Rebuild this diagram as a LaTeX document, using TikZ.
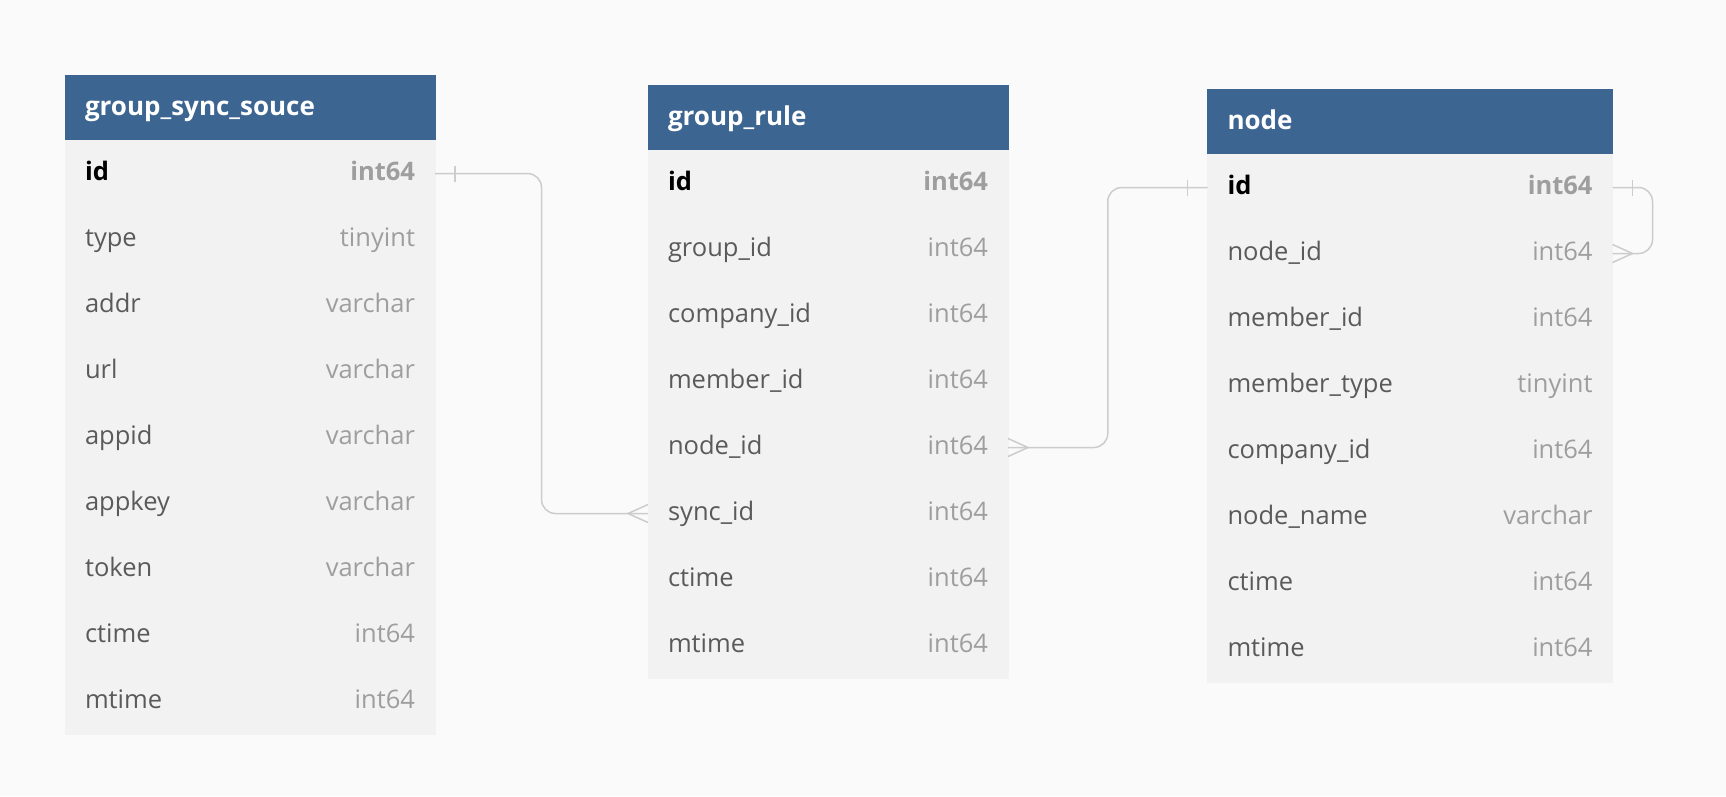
\documentclass[tikz,border=0pt]{standalone}
\usepackage{fontspec}
\setmainfont{Open Sans}
\usetikzlibrary{positioning,calc}

\definecolor{headblue}{HTML}{3C6592}
\definecolor{rowgray}{HTML}{F2F2F2}
\definecolor{pagebg}{HTML}{FAFAFA}
\definecolor{fldtext}{HTML}{5A5A5A}
\definecolor{typetext}{HTML}{9E9E9E}
\definecolor{linkgray}{HTML}{CCCCCC}

\newcommand{\pkrow}[2]{\noindent{\bfseries\color{black}#1}\hfill{\bfseries\color{typetext}#2}}
\newcommand{\fldrow}[2]{\noindent{\color{fldtext}#1}\hfill{\color{typetext}#2}}

\tikzset{
  tblhead/.style={fill=headblue, draw=headblue, line width=0.5pt, outer sep=0pt,
    text=white, font=\fontsize{26}{30}\selectfont\bfseries,
    minimum height=65.5pt, inner xsep=20pt, inner ysep=0pt, text height=20pt, text depth=5.4pt},
  tblrow/.style={fill=rowgray, draw=rowgray, line width=0.5pt, outer sep=0pt,
    font=\fontsize{25.5}{30}\selectfont,
    minimum height=66pt, inner xsep=20pt, inner ysep=0pt, text height=20pt, text depth=5.4pt,
    below=0pt of #1},
  rel/.style={draw=linkgray, line width=1.5pt, rounded corners=14pt},
  relend/.style={draw=linkgray, line width=1.5pt},
}

\begin{document}
\begin{tikzpicture}[x=1pt,y=-1pt]
\fill[pagebg] (0,0) rectangle (1726,796);

\node[tblhead, text width=330pt, anchor=north west] (gss) at (65,75) {group\_sync\_souce};
\node[tblrow=gss, text width=330pt] (gss-id) {\pkrow{id}{int64}};
\node[tblrow=gss-id, text width=330pt] (gss-type) {\fldrow{type}{tinyint}};
\node[tblrow=gss-type, text width=330pt] (gss-addr) {\fldrow{addr}{varchar}};
\node[tblrow=gss-addr, text width=330pt] (gss-url) {\fldrow{url}{varchar}};
\node[tblrow=gss-url, text width=330pt] (gss-appid) {\fldrow{appid}{varchar}};
\node[tblrow=gss-appid, text width=330pt] (gss-appkey) {\fldrow{appkey}{varchar}};
\node[tblrow=gss-appkey, text width=330pt] (gss-token) {\fldrow{token}{varchar}};
\node[tblrow=gss-token, text width=330pt] (gss-ctime) {\fldrow{ctime}{int64}};
\node[tblrow=gss-ctime, text width=330pt] (gss-mtime) {\fldrow{mtime}{int64}};

\node[tblhead, text width=320pt, anchor=north west] (gr) at (648,85) {group\_rule};
\node[tblrow=gr, text width=320pt] (gr-id) {\pkrow{id}{int64}};
\node[tblrow=gr-id, text width=320pt] (gr-group) {\fldrow{group\_id}{int64}};
\node[tblrow=gr-group, text width=320pt] (gr-company) {\fldrow{company\_id}{int64}};
\node[tblrow=gr-company, text width=320pt] (gr-member) {\fldrow{member\_id}{int64}};
\node[tblrow=gr-member, text width=320pt] (gr-node) {\fldrow{node\_id}{int64}};
\node[tblrow=gr-node, text width=320pt] (gr-sync) {\fldrow{sync\_id}{int64}};
\node[tblrow=gr-sync, text width=320pt] (gr-ctime) {\fldrow{ctime}{int64}};
\node[tblrow=gr-ctime, text width=320pt] (gr-mtime) {\fldrow{mtime}{int64}};

\node[tblhead, text width=365pt, anchor=north west] (nd) at (1207.5,89) {node};
\node[tblrow=nd, text width=365pt] (nd-id) {\pkrow{id}{int64}};
\node[tblrow=nd-id, text width=365pt] (nd-node) {\fldrow{node\_id}{int64}};
\node[tblrow=nd-node, text width=365pt] (nd-member) {\fldrow{member\_id}{int64}};
\node[tblrow=nd-member, text width=365pt] (nd-mtype) {\fldrow{member\_type}{tinyint}};
\node[tblrow=nd-mtype, text width=365pt] (nd-company) {\fldrow{company\_id}{int64}};
\node[tblrow=nd-company, text width=365pt] (nd-name) {\fldrow{node\_name}{varchar}};
\node[tblrow=nd-name, text width=365pt] (nd-ctime) {\fldrow{ctime}{int64}};
\node[tblrow=nd-ctime, text width=365pt] (nd-mtime) {\fldrow{mtime}{int64}};

% group_sync_souce.id -> group_rule.sync_id
\draw[rel] (gss-id.east) -| ($(gss-id.east)!0.5!(gr-sync.west)$) |- (gr-sync.west);
\draw[relend] ([xshift=20pt,yshift=-8pt]gss-id.east) -- ([xshift=20pt,yshift=8pt]gss-id.east);
\draw[relend] ([yshift=9pt]gr-sync.west) -- ([xshift=-20pt]gr-sync.west) -- ([yshift=-9pt]gr-sync.west);

% node.id -> group_rule.node_id
\draw[rel] (gr-node.east) -| ($(gr-node.east)!0.5!(nd-id.west)$) |- (nd-id.west);
\draw[relend] ([yshift=9pt]gr-node.east) -- ([xshift=20pt]gr-node.east) -- ([yshift=-9pt]gr-node.east);
\draw[relend] ([xshift=-20pt,yshift=-8pt]nd-id.west) -- ([xshift=-20pt,yshift=8pt]nd-id.west);

% node.id -> node.node_id
\draw[rel] (nd-id.east) -- ++(40,0) |- (nd-node.east);
\draw[relend] ([xshift=20pt,yshift=-8pt]nd-id.east) -- ([xshift=20pt,yshift=8pt]nd-id.east);
\draw[relend] ([yshift=9pt]nd-node.east) -- ([xshift=20pt]nd-node.east) -- ([yshift=-9pt]nd-node.east);
\end{tikzpicture}
\end{document}
